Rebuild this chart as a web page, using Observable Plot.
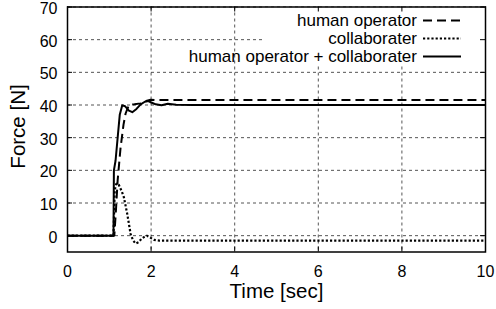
<!DOCTYPE html>
<html><head><meta charset="utf-8">
<script src="https://cdn.jsdelivr.net/npm/d3@7"></script>
<script src="https://cdn.jsdelivr.net/npm/@observablehq/plot@0.6"></script>
<style>body{margin:0;background:#fff}</style>
</head><body><div id="chart"></div>
<script>
const xTicks = [0, 2, 4, 6, 8, 10];
const yTicks = [0, 10, 20, 30, 40, 50, 60, 70];
const seriesNames = ["human operator", "collaborater", "human operator + collaborater"];

const humanT = [0, 1.12, 1.16, 1.2, 1.27, 1.34, 1.39, 1.47, 1.6, 1.75, 1.88, 1.99, 2.1, 10];
const humanV = [0, 0, 8, 17, 27, 34, 37.4, 40, 40.2, 40.5, 41.2, 41.6, 41.5, 41.5];

const collabT = [0, 1.1, 1.13, 1.17, 1.23, 1.3, 1.35, 1.43, 1.51, 1.57, 1.63, 1.7, 1.78, 1.9, 1.98, 2.07, 2.2, 10];
const collabV = [0, 0, 14, 16, 15.5, 13.5, 11.7, 6.6, 0.5, -1.5, -2.4, -2, -0.8, 0, -0.6, -1.3, -1.5, -1.5];

const sumT = [0, 1.1, 1.11, 1.15, 1.2, 1.25, 1.31, 1.38, 1.47, 1.55, 1.65, 1.75, 1.85, 1.93, 2.02, 2.11, 2.25, 2.4, 2.6, 3, 10];
const sumV = [0, 0, 20, 23, 30, 37, 39.9, 39.6, 38.3, 37.8, 38.8, 40.2, 41.0, 41.2, 40.7, 40.2, 39.9, 40.4, 40.1, 40, 40];

const mk = (T, V, s) => T.map((t, i) => ({t, v: V[i], s}));
const human = mk(humanT, humanV, seriesNames[0]);
const collab = mk(collabT, collabV, seriesNames[1]);
const sum = mk(sumT, sumV, seriesNames[2]);

const FONT = "'Liberation Sans', Arial, Helvetica, sans-serif";
const DASH = "9,5";
const DOT = "2.2,2";

function legendMark(index, scales, values, dims) {
  const right = dims.width - dims.marginRight;
  const top = dims.marginTop;
  const g = d3.create("svg:g").attr("font-family", FONT).attr("font-size", 17);
  g.append("rect").attr("x", right - 223).attr("y", top + 1).attr("width", 222).attr("height", 58).attr("fill", "#fff");
  const styles = [
    {dash: DASH, w: 2},
    {dash: DOT, w: 2.2},
    {dash: null, w: 2}
  ];
  seriesNames.forEach((name, i) => {
    const y = top + 14 + i * 18;
    g.append("text").attr("x", right - 68).attr("y", y).attr("dy", "0.35em")
      .attr("text-anchor", "end").attr("fill", "#000").text(name);
    const l = g.append("line").attr("x1", right - 62).attr("x2", right - 24)
      .attr("y1", y).attr("y2", y).attr("stroke", "#000").attr("stroke-width", styles[i].w);
    if (styles[i].dash) l.attr("stroke-dasharray", styles[i].dash);
  });
  return g.node();
}

const chart = Plot.plot({
  width: 496,
  height: 309,
  marginLeft: 67,
  marginRight: 11,
  marginTop: 6.5,
  marginBottom: 57.5,
  style: {fontFamily: FONT, background: "#fff", color: "#000"},
  x: {domain: [0, 10], axis: null},
  y: {domain: [-5, 70], axis: null},
  marks: [
    Plot.gridX(xTicks, {stroke: "#000", strokeOpacity: 0.75, strokeWidth: 0.9, strokeDasharray: "3,3"}),
    Plot.gridY(yTicks, {stroke: "#000", strokeOpacity: 0.75, strokeWidth: 0.9, strokeDasharray: "3,3"}),
    legendMark,
    Plot.line(human, {x: "t", y: "v", stroke: "#000", strokeWidth: 2, strokeDasharray: DASH, strokeLinecap: "butt", strokeLinejoin: "miter"}),
    Plot.line(collab, {x: "t", y: "v", stroke: "#000", strokeWidth: 2.2, strokeDasharray: DOT, strokeLinecap: "butt", strokeLinejoin: "miter"}),
    Plot.line(sum, {x: "t", y: "v", stroke: "#000", strokeWidth: 2, strokeLinecap: "butt"}),
    Plot.tickX(xTicks, {x: d => d, stroke: "#000", strokeWidth: 1, insetTop: 240}),
    Plot.tickX(xTicks, {x: d => d, stroke: "#000", strokeWidth: 1, insetBottom: 240}),
    Plot.tickY(yTicks, {y: d => d, stroke: "#000", strokeWidth: 1, insetRight: 413}),
    Plot.tickY(yTicks, {y: d => d, stroke: "#000", strokeWidth: 1, insetLeft: 413}),
    Plot.frame({stroke: "#000", strokeWidth: 1.5}),
    Plot.text(xTicks, {x: d => d, text: d => String(d), frameAnchor: "bottom", lineAnchor: "middle", dy: 20, fontSize: 16, fill: "#000"}),
    Plot.text(yTicks, {y: d => d, text: d => String(d), frameAnchor: "left", lineAnchor: "middle", dx: -10, dy: 2, textAnchor: "end", fontSize: 16, fill: "#000"}),
    Plot.text(["Time [sec]"], {text: d => d, frameAnchor: "bottom", lineAnchor: "middle", dy: 39, fontSize: 20.5, fill: "#000"}),
    Plot.text(["Force [N]"], {text: d => d, frameAnchor: "left", textAnchor: "middle", lineAnchor: "middle", dx: -49, dy: -3, rotate: -90, fontSize: 20.5, fill: "#000"})
  ]
});
document.getElementById("chart").appendChild(chart);
</script>
</body></html>
